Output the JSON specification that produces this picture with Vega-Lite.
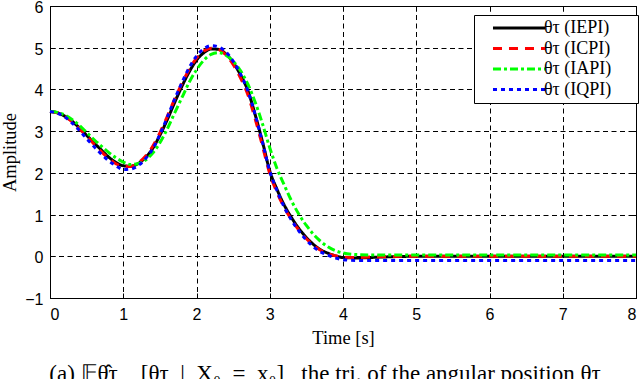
{
  "$schema": "https://vega.github.io/schema/vega-lite/v6.json",
  "width": 586,
  "height": 292,
  "autosize": {"type": "none"},
  "padding": {"left": 50, "top": 6, "right": 4, "bottom": 81},
  "background": "white",
  "config": {
    "view": {"stroke": "black", "strokeWidth": 1},
    "axis": {
      "domain": false,
      "gridColor": "black",
      "gridOpacity": 1,
      "gridDash": [5, 3.5],
      "gridWidth": 1,
      "tickColor": "black",
      "tickSize": -5,
      "labelColor": "black",
      "labelFont": "Liberation Sans",
      "labelFontSize": 16,
      "titleFont": "Liberation Serif",
      "titleFontSize": 18.5,
      "titleFontWeight": "normal",
      "titleColor": "black"
    }
  },
  "title": {
    "text": "(a) 𝔼θ̂τ\u2003[θτ\u2002|\u2002X₀\u2002=\u2002x₀],\u2002the trj. of the angular position θτ",
    "orient": "bottom",
    "anchor": "middle",
    "baseline": "alphabetic",
    "font": "Liberation Serif",
    "fontSize": 23,
    "fontWeight": "normal",
    "color": "black",
    "offset": 34,
    "dx": -18
  },
  "data": {
    "values": [
      {"t": 0, "IEPI": 3.47, "ICPI": 3.47, "IAPI": 3.47, "IQPI": 3.47},
      {"t": 0.1, "IEPI": 3.44, "ICPI": 3.44, "IAPI": 3.45, "IQPI": 3.43},
      {"t": 0.2, "IEPI": 3.36, "ICPI": 3.36, "IAPI": 3.39, "IQPI": 3.34},
      {"t": 0.3, "IEPI": 3.24, "ICPI": 3.23, "IAPI": 3.28, "IQPI": 3.2},
      {"t": 0.4, "IEPI": 3.08, "ICPI": 3.06, "IAPI": 3.14, "IQPI": 3.02},
      {"t": 0.5, "IEPI": 2.9, "ICPI": 2.88, "IAPI": 2.97, "IQPI": 2.82},
      {"t": 0.6, "IEPI": 2.72, "ICPI": 2.69, "IAPI": 2.8, "IQPI": 2.63},
      {"t": 0.7, "IEPI": 2.55, "ICPI": 2.51, "IAPI": 2.64, "IQPI": 2.45},
      {"t": 0.8, "IEPI": 2.38, "ICPI": 2.35, "IAPI": 2.49, "IQPI": 2.29},
      {"t": 0.9, "IEPI": 2.25, "ICPI": 2.22, "IAPI": 2.36, "IQPI": 2.17},
      {"t": 1.0, "IEPI": 2.17, "ICPI": 2.15, "IAPI": 2.26, "IQPI": 2.08},
      {"t": 1.1, "IEPI": 2.16, "ICPI": 2.15, "IAPI": 2.2, "IQPI": 2.09},
      {"t": 1.2, "IEPI": 2.22, "ICPI": 2.23, "IAPI": 2.22, "IQPI": 2.17},
      {"t": 1.3, "IEPI": 2.36, "ICPI": 2.39, "IAPI": 2.3, "IQPI": 2.33},
      {"t": 1.4, "IEPI": 2.58, "ICPI": 2.63, "IAPI": 2.47, "IQPI": 2.57},
      {"t": 1.5, "IEPI": 2.9, "ICPI": 2.96, "IAPI": 2.72, "IQPI": 2.92},
      {"t": 1.6, "IEPI": 3.27, "ICPI": 3.35, "IAPI": 3.05, "IQPI": 3.33},
      {"t": 1.7, "IEPI": 3.68, "ICPI": 3.76, "IAPI": 3.43, "IQPI": 3.76},
      {"t": 1.8, "IEPI": 4.07, "ICPI": 4.14, "IAPI": 3.8, "IQPI": 4.16},
      {"t": 1.9, "IEPI": 4.42, "ICPI": 4.48, "IAPI": 4.17, "IQPI": 4.52},
      {"t": 2.0, "IEPI": 4.7, "ICPI": 4.75, "IAPI": 4.47, "IQPI": 4.8},
      {"t": 2.1, "IEPI": 4.88, "ICPI": 4.92, "IAPI": 4.7, "IQPI": 4.97},
      {"t": 2.2, "IEPI": 4.97, "ICPI": 4.99, "IAPI": 4.84, "IQPI": 5.05},
      {"t": 2.3, "IEPI": 4.96, "ICPI": 4.96, "IAPI": 4.88, "IQPI": 5.02},
      {"t": 2.4, "IEPI": 4.85, "ICPI": 4.83, "IAPI": 4.82, "IQPI": 4.9},
      {"t": 2.5, "IEPI": 4.65, "ICPI": 4.6, "IAPI": 4.68, "IQPI": 4.68},
      {"t": 2.6, "IEPI": 4.35, "ICPI": 4.28, "IAPI": 4.45, "IQPI": 4.37},
      {"t": 2.7, "IEPI": 3.98, "ICPI": 3.88, "IAPI": 4.13, "IQPI": 3.97},
      {"t": 2.8, "IEPI": 3.4, "ICPI": 3.3, "IAPI": 3.7, "IQPI": 3.4},
      {"t": 2.9, "IEPI": 2.75, "ICPI": 2.65, "IAPI": 3.18, "IQPI": 2.74},
      {"t": 3.0, "IEPI": 2.05, "ICPI": 1.98, "IAPI": 2.6, "IQPI": 2.04},
      {"t": 3.1, "IEPI": 1.6, "ICPI": 1.53, "IAPI": 2.1, "IQPI": 1.57},
      {"t": 3.2, "IEPI": 1.22, "ICPI": 1.16, "IAPI": 1.7, "IQPI": 1.17},
      {"t": 3.3, "IEPI": 0.92, "ICPI": 0.87, "IAPI": 1.32, "IQPI": 0.86},
      {"t": 3.4, "IEPI": 0.66, "ICPI": 0.62, "IAPI": 1.0, "IQPI": 0.6},
      {"t": 3.5, "IEPI": 0.45, "ICPI": 0.42, "IAPI": 0.74, "IQPI": 0.39},
      {"t": 3.6, "IEPI": 0.28, "ICPI": 0.26, "IAPI": 0.52, "IQPI": 0.22},
      {"t": 3.7, "IEPI": 0.15, "ICPI": 0.14, "IAPI": 0.35, "IQPI": 0.1},
      {"t": 3.8, "IEPI": 0.07, "ICPI": 0.06, "IAPI": 0.22, "IQPI": 0.02},
      {"t": 3.9, "IEPI": 0.01, "ICPI": 0.01, "IAPI": 0.13, "IQPI": -0.04},
      {"t": 4.0, "IEPI": -0.03, "ICPI": -0.02, "IAPI": 0.08, "IQPI": -0.08},
      {"t": 4.2, "IEPI": -0.04, "ICPI": -0.03, "IAPI": 0.04, "IQPI": -0.1},
      {"t": 4.5, "IEPI": -0.02, "ICPI": -0.01, "IAPI": 0.03, "IQPI": -0.1},
      {"t": 5, "IEPI": 0, "ICPI": 0, "IAPI": 0.03, "IQPI": -0.1},
      {"t": 6, "IEPI": 0, "ICPI": 0, "IAPI": 0.03, "IQPI": -0.1},
      {"t": 7, "IEPI": 0, "ICPI": 0, "IAPI": 0.03, "IQPI": -0.1},
      {"t": 8, "IEPI": 0, "ICPI": 0, "IAPI": 0.03, "IQPI": -0.1}
    ]
  },
  "transform": [{"fold": ["IEPI", "ICPI", "IAPI", "IQPI"], "as": ["s", "v"]}],
  "resolve": {"axis": {"x": "independent", "y": "independent"}},
  "layer": [
    {
      "mark": {"type": "line", "opacity": 0},
      "encoding": {
        "x": {"field": "t", "type": "quantitative", "scale": {"domain": [0, 8], "nice": false},
          "axis": {"orient": "top", "values": [0,1,2,3,4,5,6,7,8], "labels": false, "grid": false, "title": null}},
        "y": {"field": "v", "type": "quantitative", "scale": {"domain": [-1, 6], "nice": false},
          "axis": {"orient": "right", "values": [-1,0,1,2,3,4,5,6], "labels": false, "grid": false, "title": null}},
        "detail": {"field": "s"}
      }
    },
    {
      "mark": {"type": "line", "strokeWidth": 3, "interpolate": "monotone"},
      "encoding": {
        "x": {"field": "t", "type": "quantitative", "scale": {"domain": [0, 8], "nice": false},
          "axis": {"values": [0,1,2,3,4,5,6,7,8], "grid": true, "title": "Time [s]", "labelPadding": 13, "titlePadding": 6}},
        "y": {"field": "v", "type": "quantitative", "scale": {"domain": [-1, 6], "nice": false},
          "axis": {"values": [-1,0,1,2,3,4,5,6], "grid": true, "title": "Amplitude", "labelPadding": 12, "labelOffset": 1.5, "titlePadding": 5}},
        "color": {
          "field": "s", "type": "nominal",
          "scale": {"domain": ["IEPI", "ICPI", "IAPI", "IQPI"], "range": ["#000000", "#ff0000", "#00ff00", "#0000ff"]},
          "legend": {"title": null, "orient": "none", "legendX": 424, "legendY": 9,
            "labelExpr": "'θτ  (' + datum.label + ')\u00a0\u2800'",
            "labelFont": "Liberation Serif", "labelFontSize": 18, "labelColor": "black",
            "symbolType": "M-8.67,0H8.67", "symbolSize": 36, "symbolStrokeWidth": 3,
            "symbolOffset": 32, "labelOffset": 16, "rowPadding": 2.5, "padding": 4,
            "strokeColor": "black", "fillColor": "white"}
        },
        "strokeDash": {
          "field": "s", "type": "nominal",
          "scale": {"domain": ["IEPI", "ICPI", "IAPI", "IQPI"], "range": [[1, 0], [9, 7], [8, 3, 3, 3], [4, 4]]},
          "legend": {"title": null, "orient": "none", "legendX": 424, "legendY": 9,
            "labelExpr": "'θτ  (' + datum.label + ')\u00a0\u2800'",
            "labelFont": "Liberation Serif", "labelFontSize": 18, "labelColor": "black",
            "symbolType": "M-8.67,0H8.67", "symbolSize": 36, "symbolStrokeWidth": 3,
            "symbolOffset": 32, "labelOffset": 16, "rowPadding": 2.5, "padding": 4,
            "strokeColor": "black", "fillColor": "white"}
        }
      }
    }
  ]
}
